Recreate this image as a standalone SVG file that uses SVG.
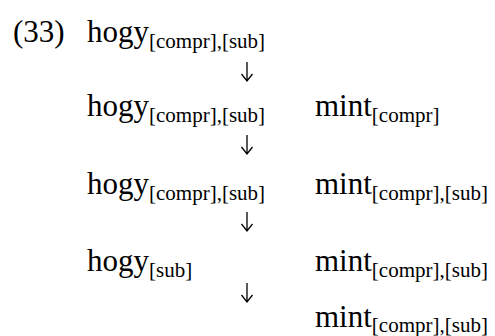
<svg xmlns="http://www.w3.org/2000/svg" width="495" height="336" viewBox="0 0 495 336">
  <style>
    .t { font-family: "Liberation Serif", "Times New Roman", serif; font-size: 31px; fill: #000; }
    .s { font-size: 21px; }
    .arr { stroke: #000; stroke-width: 1.3; fill: none; }
  </style>
  <rect width="495" height="336" fill="#fff"/>

  <g id="ex-number"><text class="t" x="13" y="42" font-size="30">(33)</text></g>

  <g id="hogy-1"><text class="t" x="87" y="42">hogy<tspan class="s" dy="6">[compr],[sub]</tspan></text></g>
  <g id="hogy-2"><text class="t" x="87" y="116">hogy<tspan class="s" dy="6">[compr],[sub]</tspan></text></g>
  <g id="mint-2"><text class="t" x="315" y="116">mint<tspan class="s" dy="6">[compr]</tspan></text></g>
  <g id="hogy-3"><text class="t" x="87" y="194">hogy<tspan class="s" dy="6">[compr],[sub]</tspan></text></g>
  <g id="mint-3"><text class="t" x="315" y="194">mint<tspan class="s" dy="6">[compr],[sub]</tspan></text></g>
  <g id="hogy-4"><text class="t" x="87" y="271">hogy<tspan class="s" dy="6">[sub]</tspan></text></g>
  <g id="mint-4"><text class="t" x="315" y="271">mint<tspan class="s" dy="6">[compr],[sub]</tspan></text></g>
  <g id="mint-5"><text class="t" x="315" y="327">mint<tspan class="s" dy="5">[compr],[sub]</tspan></text></g>

  <g id="connectors">
    <path class="arr" d="M247 62 V81 M241.5 74 L247 81 L252.5 74"/>
    <path class="arr" d="M247 135 V154 M241.5 147 L247 154 L252.5 147"/>
    <path class="arr" d="M247 212 V231 M241.5 224 L247 231 L252.5 224"/>
    <path class="arr" d="M247 283 V302 M241.5 295 L247 302 L252.5 295"/>
  </g>
</svg>
